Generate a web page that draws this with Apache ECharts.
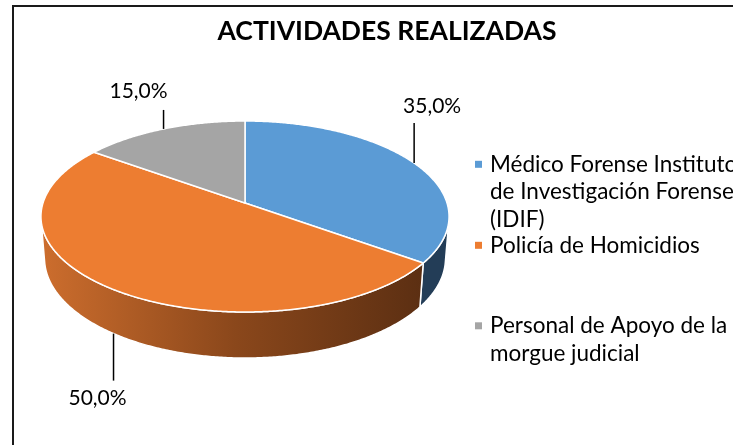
<!DOCTYPE html>
<html>
<head>
<meta charset="utf-8">
<script src="https://cdn.jsdelivr.net/npm/echarts@6/dist/echarts.min.js"></script>
<style>
html,body{margin:0;padding:0;background:#fff;}
#chart{width:733px;height:445px;}
</style>
</head>
<body>
<div id="chart"></div>
<script>
// ---- data ----
const categories = [
  'Médico Forense Instituto de Investigación Forense (IDIF)',
  'Policía de Homicidios',
  'Personal de Apoyo de la morgue judicial'
];
const values = [35, 50, 15];
const legendLines = [
  ['Médico Forense Instituto', 'de Investigación Forense', '(IDIF)'],
  ['Policía de Homicidios'],
  ['Personal de Apoyo de la', 'morgue judicial']
];
const titleText = 'ACTIVIDADES REALIZADAS';

// ---- styles / layout ----
const topColors = ['#5b9bd5', '#ed7d31', '#a5a5a5'];
const FONT = 'Lato';
const CX = 245, CY = 203, K = 202, PK = 0.1595, ALPHA = 27.6 * Math.PI / 180, H = 0.236;
const SA = Math.sin(ALPHA), CA = Math.cos(ALPHA);
const TS = Math.acos(-PK / CA); // first front-facing wall angle
const labelLayout = [
  { len: -40, dx: 18, gap: 6 },
  { len: 47, dx: -16, gap: 7 },
  { len: -19, dx: -25, gap: 8 }
];
const legendCenters = [164.3, 245.3, 325.8];
const LH = 27.5;

function proj(X, Y, Z) {
  const d = 1 + PK * (Y * CA - Z * SA);
  return [CX + K * X / d, CY - K * (Y * SA + Z * CA) / d];
}

function wallFill(i) {
  if (i === 0) return '#233d57';
  if (i === 1) return new echarts.graphic.LinearGradient(43, 0, 430, 0, [
    { offset: 0, color: '#cc6d2d' },
    { offset: 0.5, color: '#8a471b' },
    { offset: 1, color: '#5a2e12' }
  ], true);
  return '#6d6d6d';
}

function renderSlice(params, api) {
  const i = params.seriesIndex;
  const total = values.reduce((a, b) => a + b, 0);
  let before = 0;
  for (let j = 0; j < i; j++) before += values[j];
  const v = api.value(0);
  const t1 = before / total * 2 * Math.PI;
  const t2 = (before + v) / total * 2 * Math.PI;
  const step = Math.PI / 360;
  const children = [];

  // top face
  const pts = [proj(0, 0, 0)];
  const n = Math.max(2, Math.ceil((t2 - t1) / step));
  for (let s = 0; s <= n; s++) {
    const t = t1 + (t2 - t1) * s / n;
    pts.push(proj(Math.sin(t), Math.cos(t), 0));
  }
  children.push({
    type: 'polygon', z2: 10,
    shape: { points: pts },
    style: { fill: topColors[i], stroke: '#ffffff', lineWidth: 1.5, lineJoin: 'round' }
  });

  // outer wall (front-facing part only)
  const a1 = Math.max(t1, TS), a2 = Math.min(t2, 2 * Math.PI - TS);
  if (a2 > a1) {
    const wp = [];
    const m = Math.max(2, Math.ceil((a2 - a1) / step));
    for (let s = 0; s <= m; s++) {
      const t = a1 + (a2 - a1) * s / m;
      wp.push(proj(Math.sin(t), Math.cos(t), 0));
    }
    for (let s = m; s >= 0; s--) {
      const t = a1 + (a2 - a1) * s / m;
      wp.push(proj(Math.sin(t), Math.cos(t), -H));
    }
    children.push({
      type: 'polygon', z2: 0,
      shape: { points: wp },
      style: { fill: wallFill(i), stroke: '#ffffff', lineWidth: 1.5, lineJoin: 'round' }
    });
  }

  // data label with leader line
  const mid = (t1 + t2) / 2;
  const onWall = mid > TS && mid < 2 * Math.PI - TS;
  const p = proj(Math.sin(mid), Math.cos(mid), onWall ? -H : 0);
  const L = labelLayout[i];
  const ey = p[1] + L.len;
  children.push({
    type: 'line', z2: 20,
    shape: { x1: p[0], y1: p[1], x2: p[0], y2: ey },
    style: { stroke: '#000', lineWidth: 1.5 }
  });
  const pct = (v / total * 100).toFixed(1).replace('.', ',') + '%';
  children.push({
    type: 'text', z2: 20,
    x: p[0] + L.dx,
    y: L.len < 0 ? ey - L.gap : ey + L.gap,
    style: {
      text: pct, fill: '#000', fontFamily: FONT, fontSize: 21,
      align: 'center', verticalAlign: L.len < 0 ? 'bottom' : 'top'
    }
  });
  return { type: 'group', children };
}

const legends = categories.map((name, i) => {
  const lines = legendLines[i];
  const nl = lines.length;
  const text = '\n'.repeat(nl - 1) + lines.join('\n');
  return {
    data: [name],
    orient: 'vertical',
    left: 475,
    top: legendCenters[i] - (2 * nl - 1) * LH / 2,
    padding: 0,
    itemGap: 0,
    itemWidth: 13,
    itemHeight: 7,
    icon: 'path://M0,0H7V7H0Z',
    selectedMode: false,
    formatter: () => text,
    textStyle: { fontFamily: FONT, fontSize: 22.5, color: '#000', lineHeight: LH }
  };
});

const chart = echarts.init(document.getElementById('chart'), null, { renderer: 'canvas' });
chart.setOption({
  animation: false,
  backgroundColor: '#ffffff',
  title: {
    text: titleText,
    left: 387, top: 18, padding: 0,
    textAlign: 'center',
    textStyle: { fontFamily: FONT, fontWeight: 'bold', fontSize: 26.5, color: '#000' }
  },
  legend: legends,
  graphic: [{
    type: 'rect', silent: true, z: -1,
    shape: { x: 13, y: 6, width: 900, height: 600 },
    style: { fill: 'none', stroke: '#1a1a1a', lineWidth: 2 }
  }],
  series: categories.map((name, i) => ({
    type: 'custom',
    name: name,
    coordinateSystem: 'none',
    silent: true,
    itemStyle: { color: topColors[i] },
    renderItem: renderSlice,
    data: [[values[i]]]
  }))
});
</script>
</body>
</html>
